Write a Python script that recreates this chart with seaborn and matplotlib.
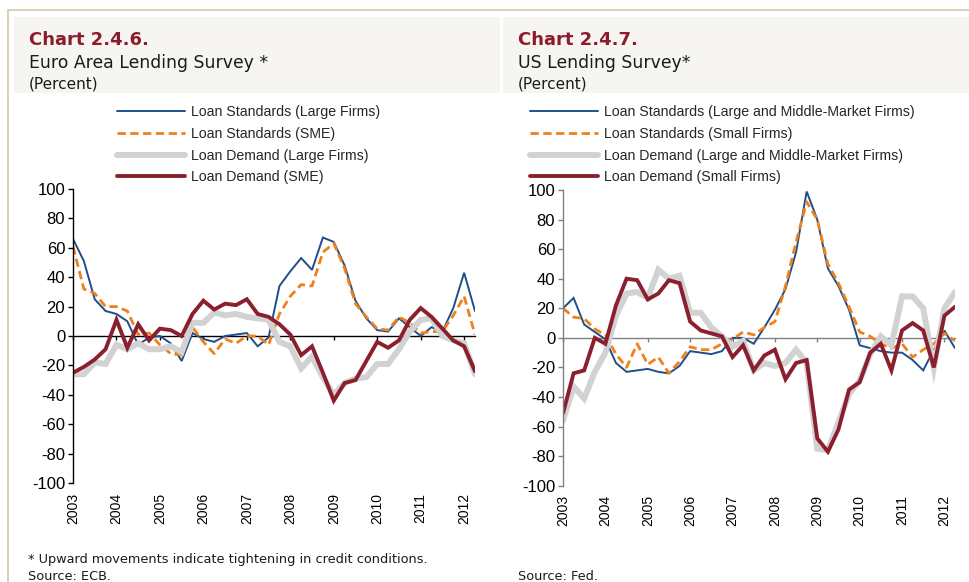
import numpy as np
import pandas as pd
import matplotlib
matplotlib.use("Agg")
import matplotlib.pyplot as plt
import seaborn as sns
from matplotlib.patches import Rectangle
from matplotlib.lines import Line2D

# ---------------- data (quarterly, 2003Q1 - 2012Q2) ----------------
years = [str(y) for y in range(2003, 2013)]
yticks = list(range(-100, 101, 20))

eu_labels = ["Loan Standards (Large Firms)", "Loan Standards (SME)",
             "Loan Demand (Large Firms)", "Loan Demand (SME)"]
eu_std_large = [66, 51, 25, 17, 15, 10, -6, -1, 0, -5, -17, 2, -2, -4, 0, 1, 2, -7, -1,
                34, 44, 53, 45, 67, 64, 48, 24, 12, 4, 3, 12, 6, 0, 6, 3, 19, 43, 17]
eu_std_sme = [61, 32, 29, 20, 20, 17, 1, 2, -6, -12, -13, 6, -4, -12, -2, -5, 0, 0, -6,
              15, 27, 35, 34, 57, 63, 46, 22, 13, 5, 4, 13, 9, 2, 3, 3, 14, 27, 1]
eu_dem_large = [-26, -26, -18, -19, -6, -9, -5, -9, -9, -7, -11, 9, 9, 16, 14, 15, 13, 12, 11,
                -4, -7, -22, -14, -28, -40, -32, -29, -28, -19, -19, -9, 3, 11, 12, 0, -3, -5, -26]
eu_dem_sme = [-25, -21, -16, -9, 11, -8, 8, -3, 5, 4, 0, 15, 24, 18, 22, 21, 25, 15, 13,
              8, 1, -13, -7, -25, -44, -32, -30, -17, -4, -8, -3, 11, 19, 13, 5, -3, -7, -24]

us_labels = ["Loan Standards (Large and Middle-Market Firms)", "Loan Standards (Small Firms)",
             "Loan Demand (Large and Middle-Market Firms)", "Loan Demand (Small Firms)"]
us_std_large = [20, 27, 9, 4, -1, -17, -23, -22, -21, -23, -24, -19, -9, -10, -11, -9, 0, 0, -4,
                7, 19, 33, 58, 99, 80, 47, 35, 19, -5, -7, -9, -10, -10, -15, -22, -8, 5, -7]
us_std_small = [20, 14, 13, 6, 2, -11, -20, -4, -18, -13, -24, -16, -6, -8, -8, -4, -1, 4, 2,
                7, 11, 35, 65, 92, 80, 50, 37, 21, 4, 1, -4, -7, -4, -13, -8, -4, 3, -2]
us_dem_large = [-56, -33, -41, -23, -10, 15, 30, 31, 27, 46, 40, 42, 17, 17, 7, 1, -6, -2, -22,
                -17, -19, -17, -8, -17, -75, -76, -57, -38, -29, -11, 1, -5, 28, 28, 20, -20, 20, 31]
us_dem_small = [-51, -24, -22, 0, -4, 22, 40, 39, 26, 30, 39, 37, 11, 5, 3, 1, -13, -5, -22,
                -12, -8, -28, -17, -15, -68, -77, -62, -35, -30, -10, -4, -22, 5, 10, 5, -20, 15, 21]

# ---------------- style ----------------
sns.set_style("white")
plt.rcParams["font.family"] = ["Liberation Sans", "DejaVu Sans"]

BLUE, ORANGE, GREY, RED = "#1f4e8a", "#f0801a", "#d2d2d2", "#8b1f2e"
styles = [dict(color=BLUE, lw=1.4, dash=None),
          dict(color=ORANGE, lw=2.0, dash=(3.0, 1.6)),
          dict(color=GREY, lw=4.3, dash=None),
          dict(color=RED, lw=2.8, dash=None)]

W, H = 970, 582
fig = plt.figure(figsize=(W / 100, H / 100), dpi=100)
fig.patch.set_facecolor("white")


def fx(px):
    return px / W


def fy(py):
    return 1 - py / H


# decorative frame and title boxes
border = "#d6c8a8"
fig.add_artist(Line2D([fx(8), 1], [fy(10), fy(10)], transform=fig.transFigure, color=border, lw=1.2))
fig.add_artist(Line2D([fx(8), fx(8)], [fy(10), 0], transform=fig.transFigure, color=border, lw=1.2))
for x0, x1 in [(14, 500), (503, 970)]:
    fig.add_artist(Rectangle((fx(x0), fy(93)), fx(x1) - fx(x0), (93 - 17) / H,
                             transform=fig.transFigure, facecolor="#f6f5f1", edgecolor="none", zorder=0))

TITLE_RED = "#8b1c2c"


def panel(rect, series, labels, axis_color, title, subtitle, tx, leg_x):
    ax = fig.add_axes(rect)
    ax.set_facecolor("none")
    df = pd.DataFrame({lab: vals for lab, vals in zip(labels, series)})
    df["q"] = np.arange(len(df))
    for lab, st in zip(labels, styles):
        sns.lineplot(data=df, x="q", y=lab, ax=ax, color=st["color"], linewidth=st["lw"],
                     label=lab, solid_joinstyle="miter")
        line = ax.lines[-1]
        if st["dash"] is not None:
            line.set_dashes(st["dash"])
    ax.set_xlim(0, len(df) - 1)
    ax.set_ylim(-100, 100)
    ax.set_yticks(yticks)
    ax.set_yticklabels([str(v) for v in yticks], fontsize=12)
    ax.set_xticks(df["q"].values[::4])
    ax.set_xticklabels(years, fontsize=11.8)
    ax.set_xlabel("")
    ax.set_ylabel("")
    for s in ["top", "right"]:
        ax.spines[s].set_visible(False)
    ax.spines["bottom"].set_position(("data", 0))
    ax.spines["bottom"].set_color(axis_color)
    ax.spines["left"].set_color(axis_color)
    ax.spines["bottom"].set_linewidth(1.0)
    ax.spines["left"].set_linewidth(1.0)
    ax.spines["bottom"].set_zorder(0.5)
    ax.tick_params(axis="y", left=True, length=3.6, width=1, color=axis_color, pad=2, labelcolor="black")
    ax.tick_params(axis="x", bottom=True, length=3.0, width=1, color=axis_color, pad=110,
                   labelcolor="black", labelrotation=90)
    handles, labs = ax.get_legend_handles_labels()
    ax.get_legend().remove()
    fig.legend(handles, labs, loc="upper left", bbox_to_anchor=(fx(leg_x), fy(105)),
               frameon=False, fontsize=10.2, handlelength=4.8, handletextpad=0.45,
               labelspacing=0.55, borderpad=0, borderaxespad=0)
    fig.text(fx(tx), fy(40), title, fontsize=13, fontweight="bold", color=TITLE_RED,
             family="DejaVu Sans", va="center", ha="left")
    fig.text(fx(tx), fy(63), subtitle, fontsize=12.4, color="#1a1a1a",
             family="DejaVu Sans", va="center", ha="left")
    fig.text(fx(tx), fy(84), "(Percent)", fontsize=11, color="#1a1a1a",
             family="DejaVu Sans", va="center", ha="left")
    return ax


panel([fx(73), fy(483), fx(475) - fx(73), (483 - 189) / H],
      [eu_std_large, eu_std_sme, eu_dem_large, eu_dem_sme], eu_labels, "black",
      "Chart 2.4.6.", "Euro Area Lending Survey *", 29, 117)
panel([fx(563), fy(485.7), fx(955) - fx(563), (485.7 - 190) / H],
      [us_std_large, us_std_small, us_dem_large, us_dem_small], us_labels, "#808080",
      "Chart 2.4.7.", "US Lending Survey*", 518, 530)

fig.text(fx(28), fy(560), "* Upward movements indicate tightening in credit conditions.",
         fontsize=9.3, family="DejaVu Sans", color="#1a1a1a", va="center", ha="left")
fig.text(fx(28), fy(576), "Source: ECB.", fontsize=9.3, family="DejaVu Sans",
         color="#1a1a1a", va="center", ha="left")
fig.text(fx(518), fy(576), "Source: Fed.", fontsize=9.3, family="DejaVu Sans",
         color="#1a1a1a", va="center", ha="left")

fig.savefig("out.png", dpi=100)
